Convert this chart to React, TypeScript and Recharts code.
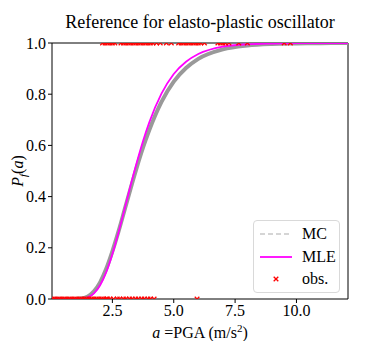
import React from 'react';
import { ComposedChart, Line, Scatter, XAxis, YAxis, ReferenceArea } from 'recharts';

// fragility curves (a in m/s^2)
const curveA = [0.04, 1.0, 1.25, 1.5, 1.75, 2.0, 2.25, 2.5, 2.75, 3.0, 3.25, 3.5, 3.75, 4.0, 4.5, 5.0, 5.5, 6.0, 7.0, 8.0, 9.0, 10.0, 11.0, 12.1];
const mcP = [0, 0.0003, 0.0024, 0.010, 0.030, 0.065, 0.118, 0.186, 0.264, 0.349, 0.434, 0.516, 0.592, 0.659, 0.770, 0.849, 0.902, 0.938, 0.975, 0.990, 0.996, 0.998, 0.9994, 1.0];
const mleP = [0, 0.0, 0.0012, 0.007, 0.022, 0.054, 0.105, 0.176, 0.260, 0.352, 0.446, 0.535, 0.617, 0.689, 0.802, 0.879, 0.927, 0.957, 0.986, 0.995, 0.998, 0.9995, 1.0, 1.0];

// observations: failures (Pf=1) and non-failures (Pf=0)
const obsFailA = [2.1, 2.2, 2.3, 2.4, 2.5, 2.6, 2.85, 2.95, 3.05, 3.15, 3.25, 3.35, 3.45, 3.55, 3.65, 3.75, 3.85, 3.95, 4.05, 4.15, 4.3, 4.45, 4.7, 4.9, 5.2, 5.3, 5.4, 5.5, 5.6, 5.7, 5.8, 5.9, 6.0, 6.1, 6.25, 6.8, 6.9, 7.0, 7.1, 7.25, 7.65, 8.0, 9.5, 9.75];
const obsSafeA = [0.05, 0.15, 0.25, 0.35, 0.45, 0.55, 0.65, 0.75, 0.85, 0.95, 1.05, 1.15, 1.25, 1.35, 1.45, 1.55, 1.65, 1.75, 1.85, 1.95, 2.05, 2.15, 2.25, 2.3, 2.4, 2.55, 2.7, 2.8, 2.95, 3.05, 3.2, 3.3, 3.45, 3.55, 3.7, 3.8, 3.95, 4.05, 4.2, 5.95];

const xTicks = [2.5, 5.0, 7.5, 10.0];
const yTicks = [0, 0.2, 0.4, 0.6, 0.8, 1.0];
const xDomain = [0.04, 12.1];

const FONT = '"Liberation Serif", "DejaVu Serif", serif';

const curveData = curveA.map((a, i) => ({ a, mc: mcP[i], mle: mleP[i] }));
const obsData = [
  ...obsSafeA.map((a) => ({ a, p: 0 })),
  ...obsFailA.map((a) => ({ a, p: 1 })),
];

const XMark = (props: any) => {
  const { cx, cy } = props;
  const r = 2.3;
  return (
    <g>
      <line x1={cx - r} y1={cy - r} x2={cx + r} y2={cy + r} stroke="#ff0000" strokeWidth={1.3} />
      <line x1={cx - r} y1={cy + r} x2={cx + r} y2={cy - r} stroke="#ff0000" strokeWidth={1.3} />
    </g>
  );
};

const legendItems = [
  { name: 'MC', kind: 'dash' },
  { name: 'MLE', kind: 'line' },
  { name: 'obs.', kind: 'mark' },
];

const LegendBox = () => (
  <div
    style={{
      position: 'absolute',
      left: 245,
      top: 212,
      width: 87,
      height: 73,
      boxSizing: 'border-box',
      border: '1px solid #d9d9d9',
      borderRadius: 4,
      background: 'rgba(255,255,255,0.85)',
      fontSize: 16,
      color: '#000',
      paddingTop: 2,
    }}
  >
    {legendItems.map((it) => (
      <div key={it.name} style={{ display: 'flex', alignItems: 'center', height: 22.5 }}>
        <svg width={44} height={12} style={{ marginLeft: 4, flexShrink: 0 }}>
          {it.kind === 'dash' && <line x1={2} y1={6} x2={34} y2={6} stroke="#c8c8c8" strokeWidth={1.6} strokeDasharray="5 3" />}
          {it.kind === 'line' && <line x1={2} y1={6} x2={34} y2={6} stroke="#ff00ff" strokeWidth={1.8} />}
          {it.kind === 'mark' && <XMark cx={18} cy={6} />}
        </svg>
        <span>{it.name}</span>
      </div>
    ))}
  </div>
);

export default function App() {
  return (
    <div style={{ position: 'relative', width: 375, height: 333, fontFamily: FONT }}>
      <style>{`.recharts-wrapper text, .recharts-text { font-family: ${FONT}; }`}</style>
      <div style={{ position: 'absolute', left: 44, top: 4, width: 296, textAlign: 'center', fontSize: 18, lineHeight: '20px' }}>
        Reference for elasto-plastic oscillator
      </div>
      <ComposedChart width={375} height={333} margin={{ top: 35, right: 35, left: 0, bottom: 0 }} style={{ fontFamily: FONT }}>
        <XAxis
          type="number"
          dataKey="a"
          domain={xDomain}
          allowDataOverflow
          ticks={xTicks}
          tickFormatter={(v: number) => v.toFixed(1)}
          axisLine={false}
          tickLine={{ stroke: '#000' }}
          tickSize={4}
          height={42}
          tick={{ fontSize: 16, fill: '#000', fontFamily: FONT }}
        />
        <YAxis
          type="number"
          domain={[0, 1]}
          allowDataOverflow
          ticks={yTicks}
          tickFormatter={(v: number) => v.toFixed(1)}
          axisLine={false}
          tickLine={{ stroke: '#000' }}
          tickSize={4}
          width={44}
          tick={{ fontSize: 16, fill: '#000', fontFamily: FONT }}
        />
        <Line data={curveData} dataKey="mc" type="monotone" stroke="#999999" strokeWidth={4} dot={false} isAnimationActive={false} />
        <Line data={curveData} dataKey="mle" type="monotone" stroke="#ff00ff" strokeWidth={1.8} dot={false} isAnimationActive={false} />
        <Scatter data={obsData} dataKey="p" shape={XMark} isAnimationActive={false} />
        <ReferenceArea x1={xDomain[0]} x2={xDomain[1]} y1={0} y2={1} fill="none" stroke="#000" strokeWidth={1} />
      </ComposedChart>
      <LegendBox />
      <div
        style={{
          position: 'absolute',
          left: 10,
          top: 163,
          transform: 'translate(-50%, -50%) rotate(-90deg)',
          fontSize: 16,
          lineHeight: '18px',
          whiteSpace: 'nowrap',
        }}
      >
        <i>P</i>
        <i style={{ fontSize: 11, position: 'relative', top: 4 }}>f</i>(<i>a</i>)
      </div>
      <div
        style={{
          position: 'absolute',
          left: 192,
          top: 325,
          transform: 'translate(-50%, -50%)',
          fontSize: 16,
          lineHeight: '18px',
          whiteSpace: 'nowrap',
        }}
      >
        <i>a</i> =PGA (m/s<span style={{ fontSize: 11, position: 'relative', top: -6 }}>2</span>)
      </div>
    </div>
  );
}
